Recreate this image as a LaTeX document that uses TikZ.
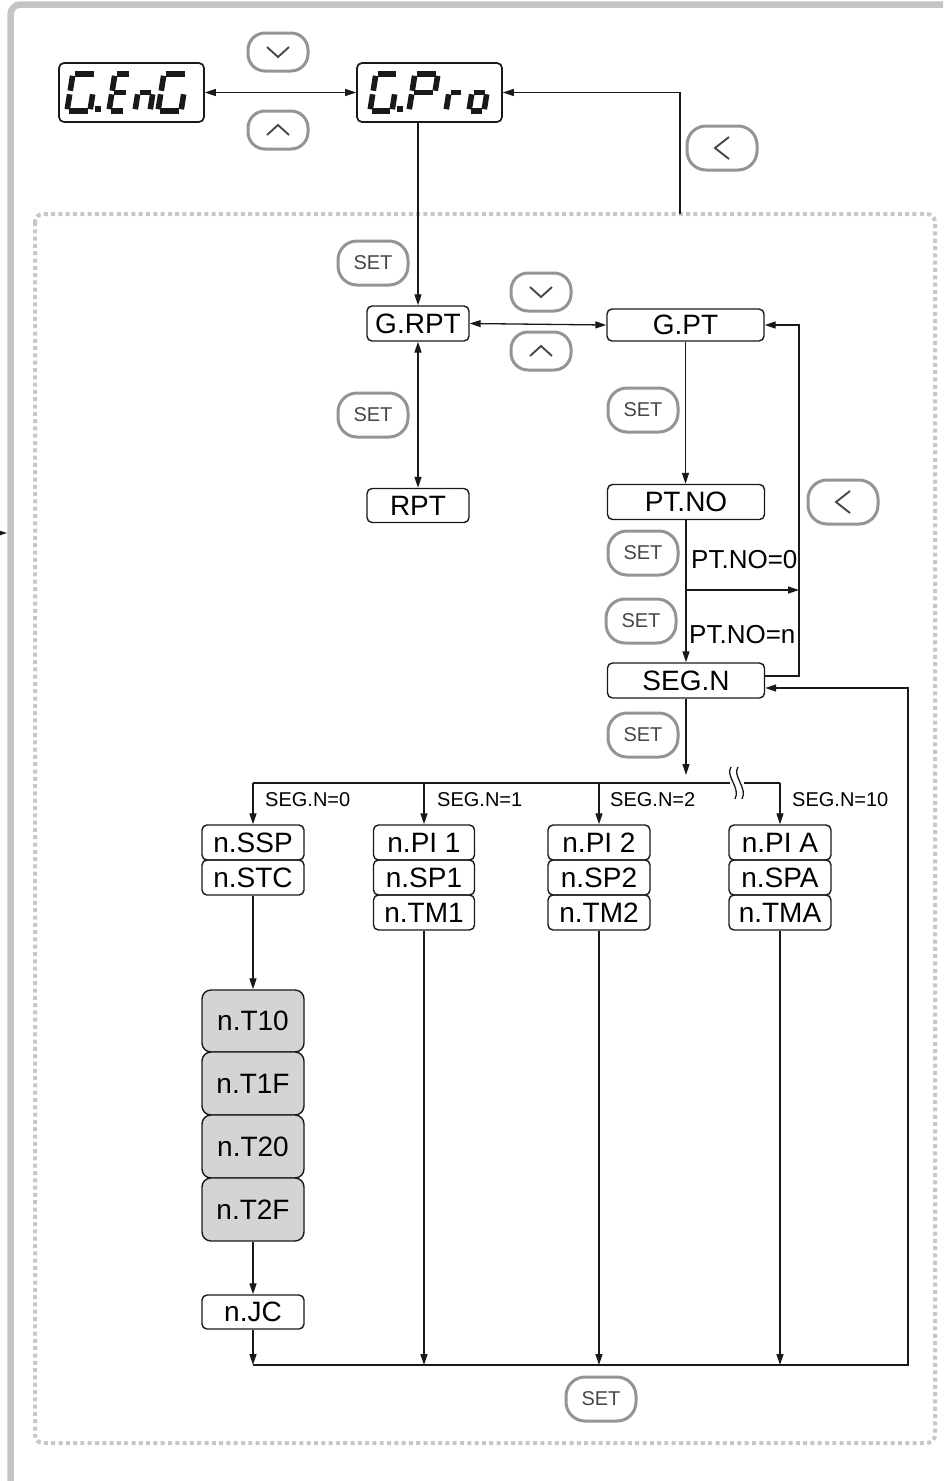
\documentclass[tikz,border=0pt]{standalone}
\usepackage{fontspec}
\setmainfont{Liberation Sans}
\usetikzlibrary{arrows.meta,calc}
\newcommand\SGa{\draw[seg] (0,\sh)--(\sw,\sh);}
\newcommand\SGb{\draw[seg] (\sw,\sh)--(\sw,\shh);}
\newcommand\SGc{\draw[seg] (\sw,\shh)--(\sw,0);}
\newcommand\SGd{\draw[seg] (0,0)--(\sw,0);}
\newcommand\SGe{\draw[seg] (0,0)--(0,\shh);}
\newcommand\SGf{\draw[seg] (0,\shh)--(0,\sh);}
\newcommand\SGg{\draw[seg] (0,\shh)--(\sw,\shh);}
\newcommand\segchar[4]{%
  \begin{scope}[shift={(#1,#2)}, y=1pt, xslant=0.16]
    \def\sw{#3}\def\sh{37}\def\shh{18.5}
    \foreach \s in {#4}{\csname SG\s\endcsname}
  \end{scope}}
\tikzset{
  box/.style={draw=black!90, line width=1.4pt, rounded corners=5pt, inner sep=0pt,
    font=\fontsize{28}{28}\selectfont},
  dbox/.style={box, line width=1.7pt},
  gbox/.style={box, fill=black!17, rounded corners=9pt},
  btn/.style={draw=black!42, line width=3pt, rounded corners=19pt, inner sep=0pt,
    minimum width=70pt, minimum height=44pt, text=black!72, font=\fontsize{20}{20}\selectfont},
  sbtn/.style={btn, minimum width=60pt, minimum height=38pt, rounded corners=17pt},
  conn/.style={line width=1.3pt, draw=black!90},
  arr/.style={conn, -{Triangle[length=11pt,width=7pt]}},
  darr/.style={conn, {Triangle[length=11pt,width=7pt]}-{Triangle[length=11pt,width=7pt]}},
  lbl/.style={font=\fontsize{20}{20}\selectfont, inner sep=0pt, anchor=west},
  plbl/.style={font=\fontsize{26}{26}\selectfont, inner sep=0pt, anchor=west},
  seg/.style={line width=5.6pt, shorten <=1.8pt, shorten >=1.8pt, draw=black!90},
  chev/.style={line width=1.9pt, draw=black!72, line join=miter},
}
\begin{document}
\begin{tikzpicture}[x=1pt, y=-1pt]
\useasboundingbox (0,0) rectangle (947,1481);
% outer frame
\draw[line width=6.5pt, draw=black!23, rounded corners=10pt] (10.5,1495) -- (10.5,4.5) -- (943,4.5);
% dotted frame
\draw[draw=black!22, line width=4pt, dash pattern=on 4pt off 3.3pt, rounded corners=8pt] (35,214) rectangle (935,1443);
% left edge arrow
\coordinate (lt0) at (-6,533);
\coordinate (lt1) at (7,533);
\draw[arr] (lt0) -- (lt1);

% displays
\node[dbox, minimum width=145pt, minimum height=59pt] (geng) at (131.5,92.5) {};
\node[dbox, minimum width=145pt, minimum height=59pt] (gpro) at (429.5,92.5) {};
\segchar{67}{111}{23}{a,c,d,e,f}
\fill[black!90] (95,106) rectangle (101,112);
\segchar{109}{111}{16}{a,d,e,f,g}
\segchar{135}{111}{15}{c,e,g}
\segchar{158}{111}{23}{a,c,d,e,f}
\segchar{370}{111}{22}{a,c,d,e,f}
\fill[black!90] (397,106) rectangle (403,112);
\segchar{409}{111}{23}{a,b,e,f,g}
\segchar{446}{111}{14}{e,g}
\segchar{469}{111}{15}{c,d,e,g}

% buttons
\node[sbtn] (bdown1) at (278,52) {};
\draw[chev] ($(bdown1)+(-11,-5)$) -- ($(bdown1)+(0,5)$) -- ($(bdown1)+(11,-5)$);
\node[sbtn] (bup1) at (278,130) {};
\draw[chev] ($(bup1)+(-11,5)$) -- ($(bup1)+(0,-5)$) -- ($(bup1)+(11,5)$);
\node[btn] (bleft1) at (722,148) {};
\draw[chev] ($(bleft1)+(7,-11)$) -- ($(bleft1)+(-7,0)$) -- ($(bleft1)+(7,11)$);
\node[btn] (set1) at (373,263) {SET};
\node[sbtn] (bdown2) at (541,292) {};
\draw[chev] ($(bdown2)+(-11,-5)$) -- ($(bdown2)+(0,5)$) -- ($(bdown2)+(11,-5)$);
\node[sbtn] (bup2) at (541,351) {};
\draw[chev] ($(bup2)+(-11,5)$) -- ($(bup2)+(0,-5)$) -- ($(bup2)+(11,5)$);
\node[btn] (set2) at (373,415) {SET};
\node[btn] (set3) at (643,410) {SET};
\node[btn] (bleft2) at (843,502) {};
\draw[chev] ($(bleft2)+(7,-11)$) -- ($(bleft2)+(-7,0)$) -- ($(bleft2)+(7,11)$);
\node[btn] (set4) at (643,553) {SET};
\node[btn] (set5) at (641,621) {SET};
\node[btn] (set6) at (643,735) {SET};
\node[btn] (set7) at (601,1399) {SET};

% menu boxes
\node[box, minimum width=102pt, minimum height=35pt] (grpt) at (418,323.5) {G.RPT};
\node[box, minimum width=157pt, minimum height=32pt] (gpt) at (685.5,325) {G.PT};
\node[box, minimum width=102pt, minimum height=34pt] (rpt) at (418,505.5) {RPT};
\node[box, minimum width=157pt, minimum height=35pt] (ptno) at (686,502) {PT.NO};
\node[box, minimum width=157pt, minimum height=35pt] (segn) at (686,680.5) {SEG.N};

\node[plbl] (l0) at (691,560) {PT.NO=0};
\node[plbl] (ln) at (689,635) {PT.NO=n};

% columns
\node[box, minimum width=102pt, minimum height=35pt] (nssp) at (253,842.5) {n.SSP};
\node[box, minimum width=102pt, minimum height=35pt] (nstc) at (253,877.5) {n.STC};
\node[gbox, minimum width=102pt, minimum height=62pt] (nt10) at (253,1021) {n.T10};
\node[gbox, minimum width=102pt, minimum height=63pt] (nt1f) at (253,1083.5) {n.T1F};
\node[gbox, minimum width=102pt, minimum height=63pt] (nt20) at (253,1146.5) {n.T20};
\node[gbox, minimum width=102pt, minimum height=63pt] (nt2f) at (253,1209.5) {n.T2F};
\node[box, minimum width=102pt, minimum height=34pt] (njc) at (253,1312) {n.JC};

\node[box, minimum width=101pt, minimum height=35pt] (npi1) at (424,842.5) {n.PI 1};
\node[box, minimum width=101pt, minimum height=35pt] (nsp1) at (424,877.5) {n.SP1};
\node[box, minimum width=101pt, minimum height=35pt] (ntm1) at (424,912.5) {n.TM1};
\node[box, minimum width=102pt, minimum height=35pt] (npi2) at (599,842.5) {n.PI 2};
\node[box, minimum width=102pt, minimum height=35pt] (nsp2) at (599,877.5) {n.SP2};
\node[box, minimum width=102pt, minimum height=35pt] (ntm2) at (599,912.5) {n.TM2};
\node[box, minimum width=102pt, minimum height=35pt] (npia) at (780,842.5) {n.PI A};
\node[box, minimum width=102pt, minimum height=35pt] (nspa) at (780,877.5) {n.SPA};
\node[box, minimum width=102pt, minimum height=35pt] (ntma) at (780,912.5) {n.TMA};

\node[lbl] (s0) at (265,800) {SEG.N=0};
\node[lbl] (s1) at (437,800) {SEG.N=1};
\node[lbl] (s2) at (610,800) {SEG.N=2};
\node[lbl] (s10) at (792,800) {SEG.N=10};

% connectors
\draw[darr] (geng.east) -- (gpro.west);
\coordinate (ret1) at (680,214);
\draw[arr] (ret1) |- (gpro.east);
\draw[arr] (grpt.north |- gpro.south) -- (grpt.north);
\draw[darr] (grpt.east) -- (gpt.west);
\draw[darr] (grpt.south) -- (rpt.north);
\draw[arr] (gpt.south) -- (gpt.south |- ptno.north);
\draw[arr] (ptno.south) -- (segn.north);
\coordinate (br0) at (686,590);
\coordinate (rr) at (799,590);
\draw[arr] (br0) -- (rr);
\coordinate (rv) at (799,325);
\draw[arr] ($(segn.east)+(0,-4.5)$) -| (rv) -- (gpt.east);
\coordinate (busb) at (253,1365);
\coordinate (rb) at (908,1365);
\draw[arr] (busb) -- (rb) |- ($(segn.east)+(0,7.5)$);
\coordinate (sd) at (686,775);
\draw[arr] (segn.south) -- (sd);
% top bus with break
\coordinate (bus0) at (253,783);
\coordinate (busL) at (730,783);
\coordinate (busR) at (744,783);
\coordinate (bus3) at (780,783);
\draw[conn] (bus0) -- (busL);
\draw[conn] (busR) -- (bus3);
\draw[conn] (731,767) .. controls (725,776) and (741,788) .. (735,799);
\draw[conn] (738,767) .. controls (732,776) and (748,788) .. (742,799);
\draw[arr] (bus0) -- (nssp.north);
\draw[arr] (npi1.north |- bus0) -- (npi1.north);
\draw[arr] (npi2.north |- bus0) -- (npi2.north);
\draw[arr] (bus3) -- (npia.north);
\draw[arr] (nstc.south) -- (nt10.north);
\draw[arr] (nt2f.south) -- (njc.north);
\draw[arr] (njc.south) -- (busb);
\draw[arr] (ntm1.south) -- (ntm1.south |- busb);
\draw[arr] (ntm2.south) -- (ntm2.south |- busb);
\draw[arr] (ntma.south) -- (ntma.south |- busb);
\end{tikzpicture}
\end{document}
